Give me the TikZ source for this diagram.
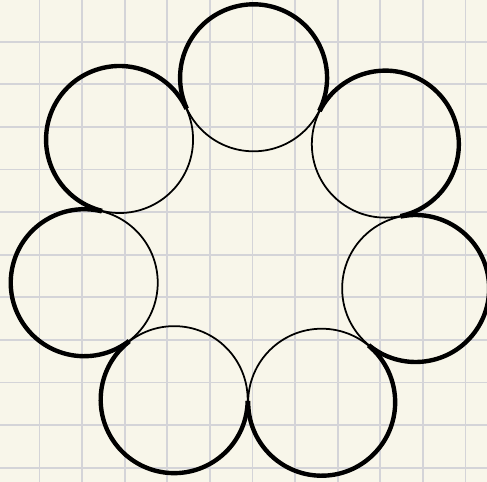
\documentclass[tikz,border=0pt]{standalone}
\usepackage{xcolor}
\definecolor{paper}{HTML}{F8F6EA}
\definecolor{gridgray}{HTML}{D4D4D8}
\begin{document}
\begin{tikzpicture}[
  x=0.02cm, y=0.02cm,
  gridline/.style={draw=gridgray,line width=1.1pt},
  inner/.style={draw=black,line width=1pt},
  outer/.style={draw=black,line width=2.5pt}
]
\fill[paper] (0,0) rectangle (487,482);
\useasboundingbox (0,0) rectangle (487,482);
% background grid
\foreach \k in {0,...,10} {
  \draw[gridline] (39.5+42.6*\k,0) -- (39.5+42.6*\k,482);
  \draw[gridline] (0,14.3+42.6*\k) -- (487,14.3+42.6*\k);
}
\coordinate (ring) at (250.6,234.2);
% thin full circles
\foreach \i in {0,...,6} {
  \pgfmathsetmacro{\ang}{89-360/7*\i}
  \coordinate (c\i) at ([shift={(\ang:170)}]ring);
  \draw[inner] (c\i) circle (73.5);
}
% thick outer arcs
\foreach \i in {0,...,6} {
  \pgfmathsetmacro{\ang}{89-360/7*\i}
  \draw[outer] ([shift={(\ang-115.7:73.5)}]c\i)
    arc[start angle=\ang-115.7, end angle=\ang+115.7, radius=73.5];
}
\end{tikzpicture}
\end{document}
